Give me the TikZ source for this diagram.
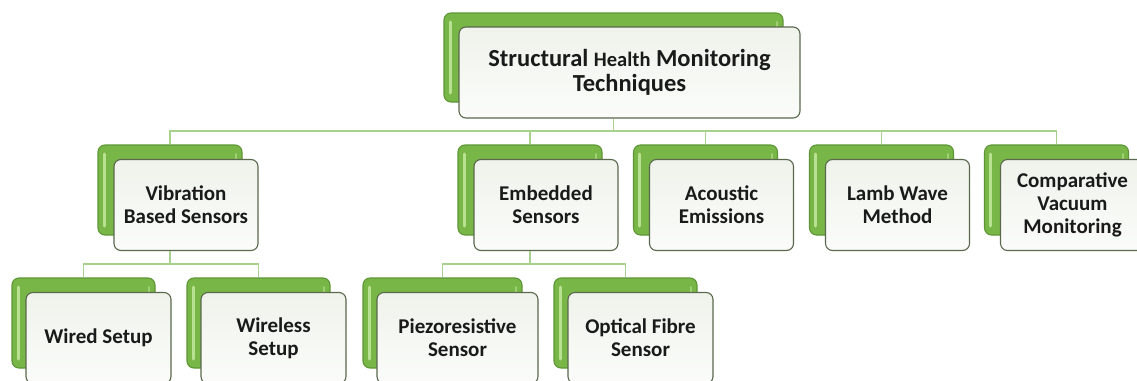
\documentclass[tikz,border=0pt]{standalone}
\usepackage{fontspec}
\setmainfont{Carlito}
\usetikzlibrary{calc}
\definecolor{grn}{HTML}{79B648}
\definecolor{grnhi}{HTML}{B9E192}
\definecolor{grnd}{HTML}{5E9636}
\definecolor{fronttop}{HTML}{EFF3EB}
\definecolor{frontbot}{HTML}{FBFCFA}
\definecolor{frontdraw}{HTML}{5A684D}
\definecolor{conncol}{HTML}{A9D18E}
\definecolor{txt}{HTML}{1A1A1A}
\tikzset{
  back/.style={draw=grnd, line width=1.1pt, rounded corners=7pt, fill=grn,
    minimum width=#1, minimum height=90pt, inner sep=0pt,
    path picture={
      \draw[grnhi, line width=3pt, line cap=round]
        ($(path picture bounding box.north west)+(6,9)$) --
        ($(path picture bounding box.south west)+(6,-9)$);
      \draw[grnhi!60!grn, line width=2pt, line cap=round]
        ($(path picture bounding box.north east)+(-6,9)$) --
        ($(path picture bounding box.south east)+(-6,-9)$);
    }},
  back/.default=144pt,
  front/.style={draw=frontdraw, line width=1.1pt, rounded corners=7pt,
    top color=fronttop, bottom color=frontbot,
    minimum width=#1, minimum height=91pt, inner sep=2pt, align=center,
    text=txt, font=\bfseries\fontsize{21}{23.3}\selectfont},
  front/.default=144pt,
  conn/.style={draw=conncol, line width=1.3pt},
}
\begin{document}
\begin{tikzpicture}[x=1pt,y=-1pt]
\clip (0,0) rectangle (1137,380);
\fill[white] (0,0) rectangle (1137,380);
% root
\node[back=339pt, minimum height=89pt] (rootb) at (613.5,57.5) {};
\node[front=341pt, font=\bfseries\fontsize{24.5}{25}\selectfont] (root) at ($(rootb)+(16,15)$)
  {Structural {\fontsize{20.5}{25}\selectfont Health} Monitoring\\Techniques};
% level 2
\node[back] (vb) at (170,190) {};
\node[front] (v) at ($(vb)+(16,15)$) {Vibration\\Based Sensors};
\node[back] (eb) at (530,190) {};
\node[front] (e) at ($(eb)+(16,15)$) {Embedded\\Sensors};
\node[back] (ab) at (705.5,190) {};
\node[front] (a) at ($(ab)+(16,15)$) {Acoustic\\Emissions};
\node[back] (lb) at (881.5,190) {};
\node[front] (l) at ($(lb)+(16,15)$) {Lamb Wave\\Method};
\node[back] (cb) at (1056.5,190) {};
\node[front] (c) at ($(cb)+(16,15)$) {Comparative\\Vacuum\\Monitoring};
% level 3
\node[back=143pt] (wdb) at (83.5,323) {};
\node[front=145pt] (wd) at ($(wdb)+(15,15)$) {Wired Setup};
\node[back=143pt] (wlb) at (258.5,323) {};
\node[front=145pt] (wl) at ($(wlb)+(15,15)$) {Wireless\\Setup};
\node[back=159pt] (pb) at (442.5,323) {};
\node[front=161pt] (p) at ($(pb)+(15,15)$) {Piezoresistive\\Sensor};
\node[back=143pt] (ob) at (625.5,323) {};
\node[front=145pt] (o) at ($(ob)+(15,15)$) {Optical Fibre\\Sensor};
% connectors
\coordinate (bus1) at (0,131);
\coordinate (bus2) at (0,264);
\foreach \ch in {vb,eb,ab,lb,cb}
  \draw[conn] (rootb |- root.south) -- (rootb |- bus1) -| (\ch.north);
\foreach \ch in {wdb,wlb}
  \draw[conn] (vb |- v.south) -- (vb |- bus2) -| (\ch.north);
\foreach \ch in {pb,ob}
  \draw[conn] (eb |- e.south) -- (eb |- bus2) -| (\ch.north);
\end{tikzpicture}
\end{document}
